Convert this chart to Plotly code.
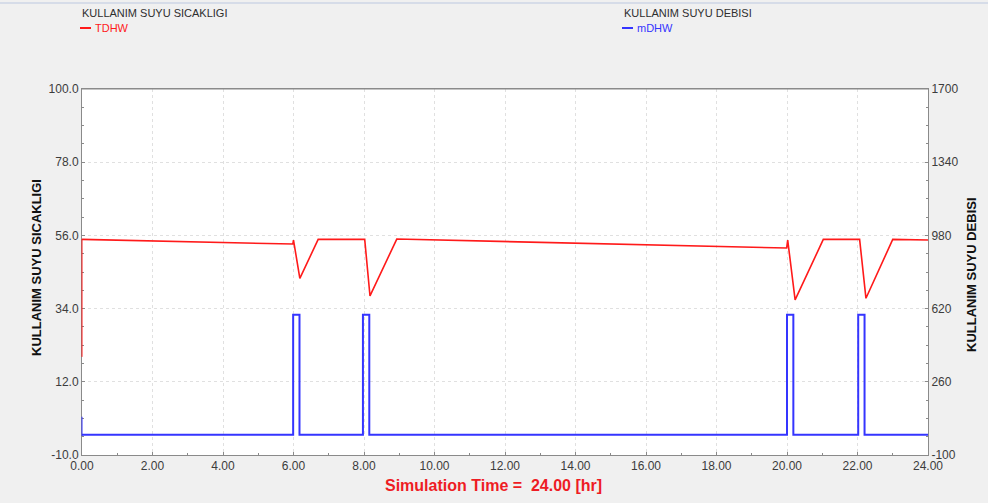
import plotly.graph_objects as go

# Domestic hot water temperature (left axis) over a 24 h simulation
t_temp = [0.00, 5.98, 6.00, 6.18, 6.70, 8.02, 8.17, 8.93, 19.99, 20.02, 20.23,
          21.03, 22.06, 22.24, 23.00, 24.00]
tdhw = [54.8, 53.4, 54.6, 43.1, 54.8, 54.8, 37.8, 54.9, 52.2, 54.6, 36.6,
        54.8, 54.8, 37.1, 54.8, 54.6]

# Domestic hot water flow (right axis): draw-off pulses
t_flow = [0.00, 5.99, 5.99, 6.17, 6.17, 7.97, 7.97, 8.15, 8.15, 20.00, 20.00,
          20.18, 20.18, 22.02, 22.02, 22.20, 22.20, 24.00]
mdhw = [0, 0, 590, 590, 0, 0, 590, 590, 0, 0, 590, 590, 0, 0, 590, 590, 0, 0]

left_ticks = [-10.0, 12.0, 34.0, 56.0, 78.0, 100.0]
right_ticks = [-100, 260, 620, 980, 1340, 1700]
x_ticks = [0, 2, 4, 6, 8, 10, 12, 14, 16, 18, 20, 22, 24]

RED = "#ff1a1a"
BLUE = "#3535ff"
TXT = "#3c3c3c"
FONT = "Liberation Sans Narrow, Arial Narrow, Liberation Sans, Arial, sans-serif"

W, H = 988, 503
L, R, T, B = 82, 60, 89, 48
PW, PH = W - L - R, H - T - B


def px(x):
    return (x - L) / PW


def py(y):
    return (H - B - y) / PH


fig = go.Figure()
fig.add_trace(go.Scatter(x=t_temp, y=tdhw, mode="lines", name="TDHW",
                         line=dict(color=RED, width=1.6), yaxis="y"))
fig.add_trace(go.Scatter(x=t_flow, y=mdhw, mode="lines", name="mDHW",
                         line=dict(color=BLUE, width=2), yaxis="y2"))

axis_common = dict(
    showline=True, linecolor="#8a8a8a", linewidth=1,
    ticks="inside", ticklen=3, tickcolor="#8a8a8a",
    showgrid=True, gridcolor="#e0e0e0", griddash="dot", gridwidth=1,
    zeroline=False, tickfont=dict(family=FONT, size=12, color=TXT),
)

fig.update_layout(
    width=W, height=H, autosize=False,
    margin=dict(l=L, r=R, t=T, b=B),
    paper_bgcolor="#f0f0f0", plot_bgcolor="#ffffff",
    showlegend=False,
    xaxis=dict(range=[0, 24], tickvals=x_ticks,
               ticktext=[f"{v:.2f}" for v in x_ticks], mirror=True,
               minor=dict(dtick=1, tick0=0, ticks="inside", ticklen=2,
                          tickcolor="#8a8a8a", showgrid=False),
               **axis_common),
    yaxis=dict(range=[-10, 100], tickvals=left_ticks,
               ticktext=[f"{v:.1f}" for v in left_ticks],
               minor=dict(dtick=5.5, tick0=-10, ticks="inside", ticklen=2,
                          tickcolor="#8a8a8a", showgrid=False),
               **axis_common),
    yaxis2=dict(range=[-100, 1700], tickvals=right_ticks,
                ticktext=[str(v) for v in right_ticks],
                overlaying="y", side="right",
                minor=dict(dtick=90, tick0=-100, ticks="inside", ticklen=2,
                           tickcolor="#8a8a8a", showgrid=False),
                **axis_common),
)

# Top frame line of the plot area
fig.add_shape(type="line", xref="paper", yref="paper", x0=0, x1=1, y0=1, y1=1,
              line=dict(color="#8a8a8a", width=1))

# Thin window border along the top
fig.add_shape(type="line", xref="paper", yref="paper",
              x0=px(0), x1=px(W), y0=py(3), y1=py(3),
              line=dict(color="#d6dce8", width=2))

# Series range markers on the left axis
fig.add_shape(type="line", xref="paper", yref="y", x0=0, x1=0, y0=max(tdhw), y1=19.5,
              line=dict(color=RED, width=1), layer="above")
fig.add_shape(type="line", xref="paper", yref="y", x0=0, x1=0, y0=1.5, y1=-4.3,
              line=dict(color=BLUE, width=1), layer="above")

# Legend blocks at the top
legend_items = [
    (80, "KULLANIM SUYU SICAKLIGI", "TDHW", RED),
    (622, "KULLANIM SUYU DEBISI", "mDHW", BLUE),
]
for x0, head, name, col in legend_items:
    fig.add_annotation(xref="paper", yref="paper", x=px(x0), y=py(13),
                       xanchor="left", yanchor="middle", showarrow=False,
                       text=head, font=dict(family="Liberation Sans, Arial, sans-serif",
                                            size=11, color="#2e2e2e"))
    fig.add_shape(type="line", xref="paper", yref="paper",
                  x0=px(x0), x1=px(x0 + 11), y0=py(28), y1=py(28),
                  line=dict(color=col, width=2))
    fig.add_annotation(xref="paper", yref="paper", x=px(x0 + 13), y=py(28),
                       xanchor="left", yanchor="middle", showarrow=False,
                       text=name, font=dict(family="Liberation Sans, Arial, sans-serif",
                                            size=11, color=col))

# Axis titles
fig.add_annotation(xref="paper", yref="paper", x=px(36), y=py(268),
                   xanchor="center", yanchor="middle", showarrow=False, textangle=-90,
                   text="<b>KULLANIM SUYU SICAKLIGI</b>",
                   font=dict(family="Liberation Sans, Arial, sans-serif", size=13, color="#111111"))
fig.add_annotation(xref="paper", yref="paper", x=px(971), y=py(275),
                   xanchor="center", yanchor="middle", showarrow=False, textangle=-90,
                   text="<b>KULLANIM SUYU DEBISI</b>",
                   font=dict(family="Liberation Sans, Arial, sans-serif", size=13, color="#111111"))
fig.add_annotation(xref="paper", yref="paper", x=px(493), y=py(485),
                   xanchor="center", yanchor="middle", showarrow=False,
                   text="<b>Simulation Time =  24.00 [hr]</b>",
                   font=dict(family=FONT, size=16, color="#ee1c24"))

fig.write_html("out.html")
